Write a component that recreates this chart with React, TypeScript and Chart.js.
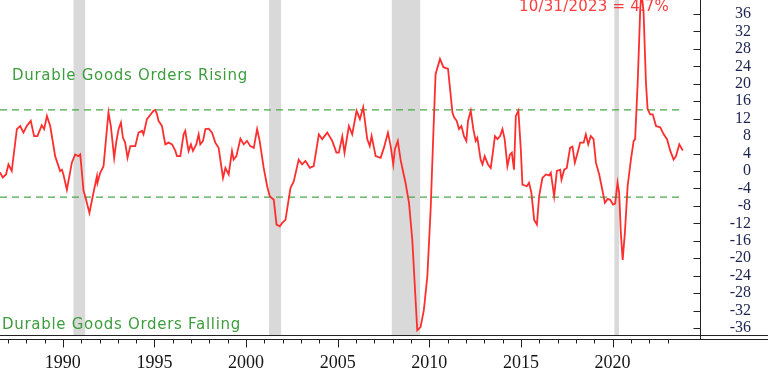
import React, { useEffect, useRef } from 'react';
import { Chart, registerables } from 'chart.js';

Chart.register(...registerables);

const dates = [
  1986.57, 1986.72, 1986.9, 1987.03, 1987.21, 1987.49, 1987.67, 1987.85, 1988.03, 1988.25,
  1988.43, 1988.61, 1988.85, 1988.98, 1989.13, 1989.31, 1989.58, 1989.85, 1989.95, 1990.03,
  1990.22, 1990.49, 1990.67, 1990.85, 1990.95, 1991.13, 1991.22, 1991.45, 1991.67, 1991.86,
  1991.89, 1992.04, 1992.22, 1992.37, 1992.49, 1992.62, 1992.8, 1992.91, 1993.04, 1993.17,
  1993.28, 1993.4, 1993.53, 1993.68, 1993.95, 1994.13, 1994.32, 1994.4, 1994.59, 1994.95,
  1995.04, 1995.14, 1995.22, 1995.41, 1995.59, 1995.77, 1995.96, 1996.14, 1996.23, 1996.41,
  1996.59, 1996.68, 1996.78, 1996.86, 1996.99, 1997.1, 1997.28, 1997.41, 1997.5, 1997.65,
  1997.78, 1997.96, 1998.14, 1998.32, 1998.5, 1998.74, 1998.87, 1999.05, 1999.23, 1999.32,
  1999.47, 1999.69, 1999.87, 2000.05, 2000.23, 2000.42, 2000.6, 2000.74, 2000.96, 2001.15,
  2001.29, 2001.51, 2001.66, 2001.84, 2001.97, 2002.15, 2002.42, 2002.6, 2002.87, 2003.06,
  2003.24, 2003.48, 2003.69, 2003.97, 2004.15, 2004.43, 2004.7, 2004.93, 2005.06, 2005.25,
  2005.37, 2005.61, 2005.79, 2006.03, 2006.21, 2006.39, 2006.61, 2006.75, 2006.85, 2007.07,
  2007.34, 2007.52, 2007.74, 2007.89, 2008.03, 2008.12, 2008.28, 2008.43, 2008.58, 2008.7,
  2008.89, 2009.07, 2009.2, 2009.34, 2009.52, 2009.7, 2009.89, 2010.07, 2010.22, 2010.34,
  2010.58, 2010.77, 2011.02, 2011.26, 2011.35, 2011.49, 2011.62, 2011.75, 2011.89, 2012.02,
  2012.11, 2012.26, 2012.4, 2012.53, 2012.62, 2012.8, 2012.9, 2013.02, 2013.2, 2013.35,
  2013.44, 2013.58, 2013.72, 2013.86, 2013.99, 2014.11, 2014.26, 2014.4, 2014.5, 2014.62,
  2014.72, 2014.86, 2014.99, 2015.08, 2015.32, 2015.44, 2015.57, 2015.72, 2015.87, 2015.99,
  2016.17, 2016.36, 2016.54, 2016.63, 2016.81, 2016.96, 2017.14, 2017.21, 2017.36, 2017.5,
  2017.68, 2017.81, 2017.94, 2018.09, 2018.23, 2018.42, 2018.54, 2018.67, 2018.81, 2018.96,
  2019.09, 2019.27, 2019.4, 2019.58, 2019.73, 2019.87, 2020.03, 2020.14, 2020.27, 2020.36,
  2020.45, 2020.55, 2020.67, 2020.82, 2021.0, 2021.15, 2021.23, 2021.37, 2021.51, 2021.58,
  2021.69, 2021.82, 2021.91, 2022.05, 2022.19, 2022.37, 2022.6, 2022.79, 2022.97, 2023.15,
  2023.33, 2023.46, 2023.64, 2023.83,
];

const values = [
  -0.3, -1.5, -0.8, 1.5, 0.0, 9.6, 10.3, 8.8, 10.3, 11.5,
  8.0, 8.0, 10.5, 9.6, 12.6, 10.3, 3.4, 0.0, 0.3, -0.8,
  -4.3, 1.9, 3.8, 3.4, 3.8, -4.6, -5.8, -9.6, -5.0, -1.2,
  -2.7, -0.4, 1.1, 8.0, 13.4, 10.3, 3.0, 6.5, 9.6, 11.1,
  7.6, 6.5, 3.0, 5.7, 5.7, 8.8, 9.2, 8.4, 11.9, 13.8,
  14.0, 13.0, 11.5, 10.3, 6.1, 6.5, 6.1, 4.6, 3.4, 3.4,
  8.4, 9.2, 6.5, 4.6, 6.1, 4.6, 6.1, 8.4, 6.1, 6.9,
  9.6, 9.7, 8.8, 6.5, 5.3, -1.6, 0.7, -0.8, 4.6, 2.6,
  3.4, 7.4, 6.1, 6.9, 5.7, 5.3, 9.6, 6.9, 0.7, -3.5,
  -5.8, -6.6, -12.3, -12.7, -11.9, -11.2, -3.9, -2.4, 2.6, 1.5,
  2.3, 0.7, 1.1, 8.4, 7.3, 8.8, 6.9, 4.2, 4.2, 7.9,
  4.2, 10.3, 8.4, 13.8, 11.9, 14.6, 7.3, 5.7, 8.0, 3.4,
  3.0, 5.3, 8.8, 5.7, 1.5, 5.0, 6.9, 2.6, -0.4, -2.7,
  -7.3, -15.8, -25.8, -36.5, -35.8, -31.9, -24.2, -8.9, 8.8, 22.2,
  25.7, 23.8, 23.4, 13.4, 12.3, 11.5, 9.6, 10.3, 8.0, 6.9,
  11.5, 13.8, 9.6, 6.9, 7.6, 2.6, 1.5, 3.4, 1.5, 0.7,
  3.4, 8.0, 7.3, 8.0, 9.6, 7.3, 1.1, 3.8, 4.2, 0.3,
  12.6, 13.8, 5.0, -3.1, -3.5, -2.7, -5.0, -11.2, -12.3, -5.8,
  -1.6, -0.8, -1.0, -0.4, -5.8, 0.0, 0.3, -2.0, 0.3, 0.7,
  5.3, 5.6, 1.9, 4.2, 6.5, 6.5, 8.4, 6.1, 8.0, 7.3,
  1.9, -0.8, -3.5, -7.3, -6.4, -6.6, -7.7, -7.5, -2.7, -5.0,
  -14.2, -20.4, -14.2, -3.5, 2.6, 6.9, 7.3, 20.3, 37.2, 41.0,
  36.5, 20.3, 14.2, 13.0, 13.0, 10.3, 10.0, 8.4, 7.3, 4.6,
  2.6, 3.4, 6.1, 4.7,
];

const recessionStart = [1990.58, 2001.25, 2007.95, 2020.1];
const recessionEnd = [1991.22, 2001.91, 2009.5, 2020.35];

const risingThreshold = 14;
const fallingThreshold = -6;
const thresholdRange = [1986.57, 2023.75];

const yTickValues = [-36, -32, -28, -24, -20, -16, -12, -8, -4, 0, 4, 8, 12, 16, 20, 24, 28, 32, 36];
const xLabelYears = [1990, 1995, 2000, 2005, 2010, 2015, 2020];
const xMinorYears = [
  1987, 1988, 1989, 1990, 1991, 1992, 1993, 1994, 1995, 1996, 1997, 1998, 1999,
  2000, 2001, 2002, 2003, 2004, 2005, 2006, 2007, 2008, 2009, 2010, 2011, 2012,
  2013, 2014, 2015, 2016, 2017, 2018, 2019, 2020, 2021, 2022, 2023,
];

const latestNote = '10/31/2023 = 4.7%';
const risingNote = 'Durable Goods Orders Rising';
const fallingNote = 'Durable Goods Orders Falling';

const X_MIN = 1986.57;
const X_MAX = 2024.77;
const Y_MIN = -37.6;
const Y_MAX = 39.2;

const decorPlugin = {
  id: 'decor',
  beforeDatasetsDraw(chart: any) {
    const { ctx, chartArea, scales } = chart;
    const x = scales.x;
    ctx.save();
    ctx.fillStyle = '#d9d9d9';
    for (let i = 0; i < recessionStart.length; i++) {
      const a = x.getPixelForValue(recessionStart[i]);
      const b = x.getPixelForValue(recessionEnd[i]);
      ctx.fillRect(a, chartArea.top, b - a, chartArea.bottom - chartArea.top);
    }
    ctx.textBaseline = 'alphabetic';
    ctx.textAlign = 'left';
    ctx.font = '15px "DejaVu Sans"';
    try { (ctx as any).letterSpacing = '0.7px'; } catch (e) {}
    ctx.fillStyle = '#3d9d3d';
    ctx.fillText(risingNote, 12, 80);
    ctx.fillText(fallingNote, 2, 329);
    try { (ctx as any).letterSpacing = '0.2px'; } catch (e) {}
    ctx.fillStyle = '#ff3c3c';
    ctx.fillText(latestNote, 519, 10.5);
    try { (ctx as any).letterSpacing = '0px'; } catch (e) {}
    ctx.restore();
  },
  afterDraw(chart: any) {
    const { ctx, chartArea, scales } = chart;
    const x = scales.x;
    const y = scales.y;
    const right = Math.round(chartArea.right) + 0.5;
    const bottom = Math.round(chartArea.bottom) + 0.5;
    ctx.save();
    ctx.strokeStyle = '#222222';
    ctx.lineWidth = 1;
    ctx.beginPath();
    ctx.moveTo(right, 0);
    ctx.lineTo(right, bottom + 4);
    for (const v of yTickValues) {
      const py = Math.round(y.getPixelForValue(v)) + 0.5;
      ctx.moveTo(right - 7, py);
      ctx.lineTo(right, py);
    }
    ctx.moveTo(0, bottom);
    ctx.lineTo(chart.width, bottom);
    ctx.moveTo(0, bottom + 4);
    ctx.lineTo(chart.width, bottom + 4);
    for (const yr of xMinorYears) {
      const px = Math.round(x.getPixelForValue(yr)) + 0.5;
      const len = yr % 5 === 0 ? 8 : 4;
      ctx.moveTo(px, bottom + 4);
      ctx.lineTo(px, bottom + 4 + len);
    }
    ctx.stroke();
    ctx.restore();
  },
};

export default function App() {
  const canvasRef = useRef<HTMLCanvasElement | null>(null);

  useEffect(() => {
    const canvas = canvasRef.current;
    if (!canvas) return;
    const mainData = dates.map((d, i) => ({ x: d, y: values[i] }));
    const upper = thresholdRange.map((d) => ({ x: d, y: risingThreshold }));
    const lower = thresholdRange.map((d) => ({ x: d, y: fallingThreshold }));
    const green = '#4aa84a';
    const chart = new Chart(canvas, {
      type: 'line',
      data: {
        datasets: [
          {
            data: mainData,
            borderColor: '#ff2e2e',
            borderWidth: 1.8,
            pointRadius: 0,
            tension: 0,
          },
          {
            data: upper,
            borderColor: green,
            borderWidth: 1.3,
            borderDash: [7, 5],
            pointRadius: 0,
          },
          {
            data: lower,
            borderColor: green,
            borderWidth: 1.3,
            borderDash: [7, 5],
            pointRadius: 0,
          },
        ],
      },
      options: {
        animation: false,
        responsive: false,
        devicePixelRatio: 1,
        layout: { padding: { left: 0, top: 0, bottom: 0, right: 17 } },
        plugins: {
          legend: { display: false },
          tooltip: { enabled: false },
        },
        scales: {
          x: {
            type: 'linear',
            position: 'bottom',
            min: X_MIN,
            max: X_MAX,
            grid: { display: false, drawTicks: false },
            border: { display: false },
            afterBuildTicks: (scale: any) => {
              scale.ticks = xLabelYears.map((v) => ({ value: v }));
            },
            afterFit: (scale: any) => {
              scale.height = 38;
              scale.paddingLeft = 0;
              scale.paddingRight = 0;
              scale.paddingTop = 0;
              scale.paddingBottom = 0;
            },
            ticks: {
              autoSkip: false,
              maxRotation: 0,
              padding: 17,
              color: '#151515',
              font: { family: '"Liberation Serif", serif', size: 18 },
              callback: (v: any) => String(v),
            },
          },
          y: {
            type: 'linear',
            position: 'right',
            min: Y_MIN,
            max: Y_MAX,
            grid: { display: false, drawTicks: false },
            border: { display: false },
            afterBuildTicks: (scale: any) => {
              scale.ticks = yTickValues.map((v) => ({ value: v }));
            },
            afterFit: (scale: any) => {
              scale.width = 51;
              scale.paddingLeft = 0;
              scale.paddingRight = 0;
              scale.paddingTop = 0;
              scale.paddingBottom = 0;
            },
            ticks: {
              autoSkip: false,
              crossAlign: 'far',
              padding: 4,
              color: '#1c2350',
              font: { family: '"Liberation Serif", serif', size: 16 },
              callback: (v: any) => String(v),
            },
          },
        },
      },
      plugins: [decorPlugin],
    } as any);
    return () => chart.destroy();
  }, []);

  return (
    <div style={{ position: 'fixed', left: 0, top: 0, width: 768, height: 373, background: '#ffffff' }}>
      <canvas ref={canvasRef} width={768} height={373} style={{ display: 'block' }} />
    </div>
  );
}
